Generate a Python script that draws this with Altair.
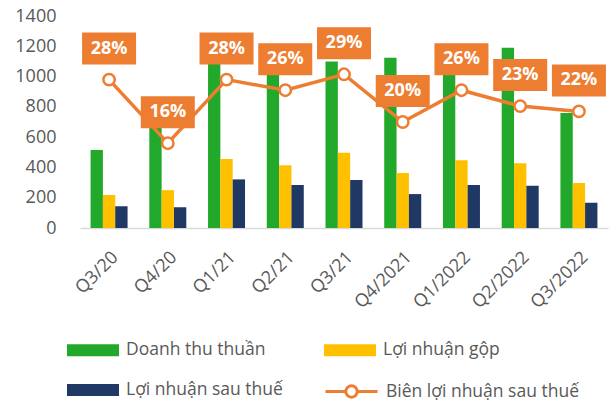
import altair as alt
import pandas as pd

categories = ["Q3/20", "Q4/20", "Q1/21", "Q2/21", "Q3/21", "Q4/2021", "Q1/2022", "Q2/2022", "Q3/2022"]
revenue = [515, 720, 1100, 1040, 1100, 1125, 1050, 1190, 760]
gross_profit = [218, 250, 455, 414, 497, 363, 447, 427, 297]
net_profit = [143, 137, 321, 284, 317, 224, 284, 279, 167]
net_margin = [28, 16, 28, 26, 29, 20, 26, 23, 22]
margin_labels = ["28%", "16%", "28%", "26%", "29%", "20%", "26%", "23%", "22%"]

bar_series = ["Doanh thu thuần", "Lợi nhuận gộp", "Lợi nhuận sau thuế"]
line_series = "Biên lợi nhuận sau thuế"

GREEN = "#22A82A"
YELLOW = "#FFC000"
NAVY = "#203864"
ORANGE = "#ED7D31"
TEXT = "#595959"
FONT = "Open Sans"

rows = []
for i, q in enumerate(categories):
    for s, vals in zip(bar_series, [revenue, gross_profit, net_profit]):
        rows.append({"quarter": q, "series": s, "value": vals[i]})
bars_df = pd.DataFrame(rows)
line_df = pd.DataFrame({"quarter": categories, "margin": net_margin,
                        "label": margin_labels, "series": [line_series] * len(categories)})

x_enc = alt.X("quarter:N", sort=categories,
              scale=alt.Scale(paddingInner=0.37, paddingOuter=0.18),
              axis=alt.Axis(title=None, labelAngle=-45, labelFont=FONT, labelFontSize=18,
                            labelColor=TEXT, ticks=False, tickSize=0, labelPadding=20,
                            domainColor="#D9D9D9", domainWidth=1.5, grid=False))
pct_scale = alt.Scale(domain=[0, 40])

bars = alt.Chart(bars_df).mark_bar().encode(
    x=x_enc,
    xOffset=alt.XOffset("series:N", sort=bar_series, scale=alt.Scale(paddingInner=0, paddingOuter=0)),
    y=alt.Y("value:Q", scale=alt.Scale(domain=[0, 1400]),
            axis=alt.Axis(title=None, values=[0, 200, 400, 600, 800, 1000, 1200, 1400], format="d",
                          domain=False, ticks=False, tickSize=0, grid=False, labelFont=FONT,
                          labelFontSize=18, labelColor=TEXT, labelPadding=24)),
    color=alt.Color("series:N", sort=bar_series,
                    scale=alt.Scale(domain=bar_series, range=[GREEN, YELLOW, NAVY]),
                    legend=alt.Legend(title=None, orient="none", legendX=-13, legendY=308,
                                      columns=2, direction="horizontal", columnPadding=41,
                                      rowPadding=5, padding=0,
                                      symbolType="M-1,-0.231H1V0.231H-1Z", symbolSize=2704,
                                      symbolStrokeWidth=0, labelFont=FONT, labelFontSize=17.5,
                                      labelColor=TEXT, labelOffset=7, labelLimit=300))
)

line = alt.Chart(line_df).mark_line(strokeWidth=3.5).encode(
    x=x_enc,
    y=alt.Y("margin:Q", scale=pct_scale, axis=None),
    stroke=alt.Stroke("series:N", scale=alt.Scale(domain=[line_series], range=[ORANGE]),
                      legend=alt.Legend(title=None, orient="none", legendX=244, legendY=348,
                                        padding=0,
                                        symbolType="M-1,0H-0.22M0.22,0H1M-0.22,0A0.22,0.22 0 1,0 0.22,0A0.22,0.22 0 1,0 -0.22,0",
                                        symbolSize=2704, symbolStrokeWidth=3,
                                        symbolFillColor="white", symbolStrokeColor=ORANGE,
                                        labelFont=FONT, labelFontSize=17.5, labelColor=TEXT,
                                        labelOffset=7, labelLimit=300))
)

points = alt.Chart(line_df).mark_point(filled=True, fill="white", stroke=ORANGE, strokeWidth=2.5,
                                       size=130, opacity=1).encode(
    x=x_enc,
    y=alt.Y("margin:Q", scale=pct_scale, axis=None),
)

boxes = alt.Chart(line_df).mark_point(shape="M-1,-0.593H1V0.593H-1Z", size=2916, filled=True,
                                      fill=ORANGE, strokeWidth=0, opacity=1, yOffset=-31).encode(
    x=x_enc,
    y=alt.Y("margin:Q", scale=pct_scale, axis=None),
)

texts = alt.Chart(line_df).mark_text(font=FONT, fontSize=18, fontWeight="bold", color="white",
                                     baseline="middle", yOffset=-31).encode(
    x=x_enc,
    y=alt.Y("margin:Q", scale=pct_scale, axis=None),
    text="label:N",
)

chart = alt.layer(bars, line, points, boxes, texts).resolve_scale(
    y="independent"
).properties(
    width=528, height=212,
    padding={"left": 80, "top": 16, "right": 5, "bottom": 173},
    autosize=alt.AutoSizeParams(type="none"),
).configure_view(stroke=None)

chart.save("out.html", embed_options={"renderer": "svg", "actions": False})
